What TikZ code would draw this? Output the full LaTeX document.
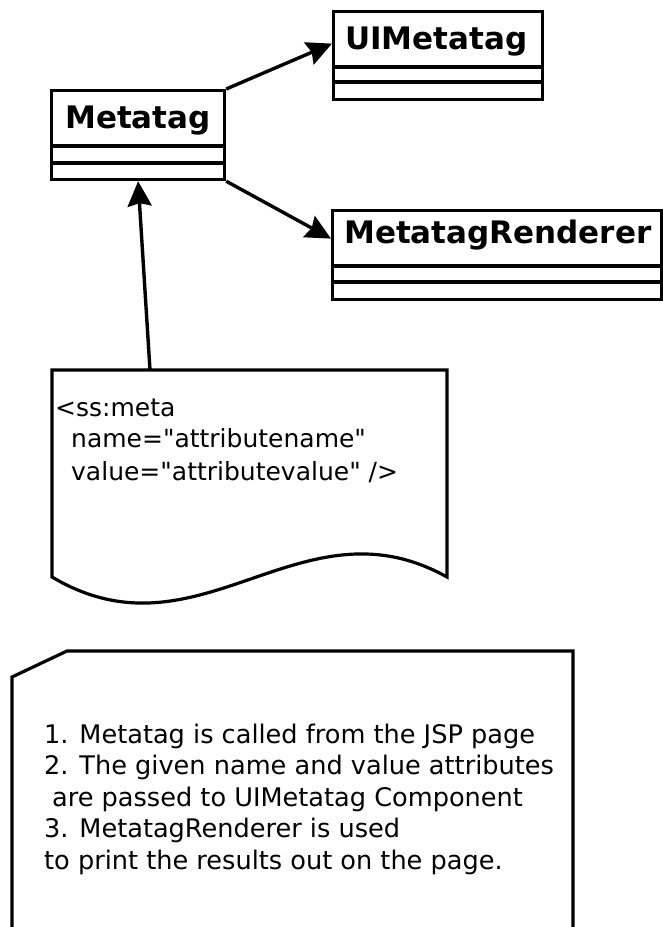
\documentclass[tikz,border=0pt]{standalone}
\usepackage{fontspec}
\setmainfont{DejaVu Sans}[Ligatures=TeXOff]
\usetikzlibrary{arrows.meta}

\begin{document}
\begin{tikzpicture}[x=1pt,y=-1pt,
  classbox/.style={draw, line width=3.2pt, anchor=north west, inner sep=0pt, fill=white},
  divider/.style={line width=3.2pt},
  classname/.style={anchor=base west, inner sep=0pt, font=\fontsize{31}{36}\selectfont\bfseries},
  bodytext/.style={anchor=base west, inner sep=0pt, font=\fontsize{25}{31}\selectfont},
  notetext/.style={anchor=base west, inner sep=0pt, font=\fontsize{25.6}{31}\selectfont},
  shapeline/.style={line width=3.2pt, line join=miter},
  link/.style={line width=3.4pt, -{Stealth[length=25pt,width=24pt,inset=3pt]}}]
\useasboundingbox (0,0) rectangle (663,927);

% --- class: Metatag
\node[classbox, minimum width=173pt, minimum height=89pt] (meta) at (50,89) {};
\draw[divider] (50,146) -- (223,146);
\draw[divider] (50,163) -- (223,163);
\node[classname] (metaname) at (65,128) {Metatag};

% --- class: UIMetatag
\node[classbox, minimum width=209pt, minimum height=88pt] (ui) at (332,10) {};
\draw[divider] (332,67) -- (541,67);
\draw[divider] (332,82) -- (541,82);
\node[classname] (uiname) at (345,49) {UIMetatag};

% --- class: MetatagRenderer
\node[classbox, minimum width=329pt, minimum height=89pt] (rend) at (331,209) {};
\draw[divider] (331,266) -- (660,266);
\draw[divider] (331,282) -- (660,282);
\node[classname] (rendname) at (344,243) {MetatagRenderer};

% --- associations
\draw[link] (meta.north east) -- ([yshift=12pt]ui.west);
\draw[link] (meta.south east) -- ([yshift=16.5pt]rend.west);

% --- document shape with the tag usage
\draw[shapeline, fill=white] (52,370) -- (447,370) -- (447,577)
  .. controls (300,495) and (200,665) .. (52,577) -- cycle;
\coordinate (doctop) at (150,370);
\draw[link] (doctop) -- (meta.south);
\node[bodytext] (d1) at (55,416) {<ss:meta};
\node[bodytext] (d2) at (55,447) {\hspace*{16pt}name="attributename"};
\node[bodytext] (d3) at (55,480) {\hspace*{16pt}value="attributevalue" />};

% --- note with folded corner
\draw[shapeline] (12,940) -- (12,677) -- (67,651) -- (573,651) -- (573,940);
\node[notetext] (n1) at (44,743) {1. Metatag is called from the JSP page};
\node[notetext] (n2) at (44,774) {2. The given name and value attributes};
\node[notetext] (n3) at (44,806) {\hspace*{8pt}are passed to UIMetatag Component};
\node[notetext] (n4) at (44,837) {3. MetatagRenderer is used};
\node[notetext] (n5) at (44,869) {to print the results out on the page.};
\end{tikzpicture}
\end{document}
